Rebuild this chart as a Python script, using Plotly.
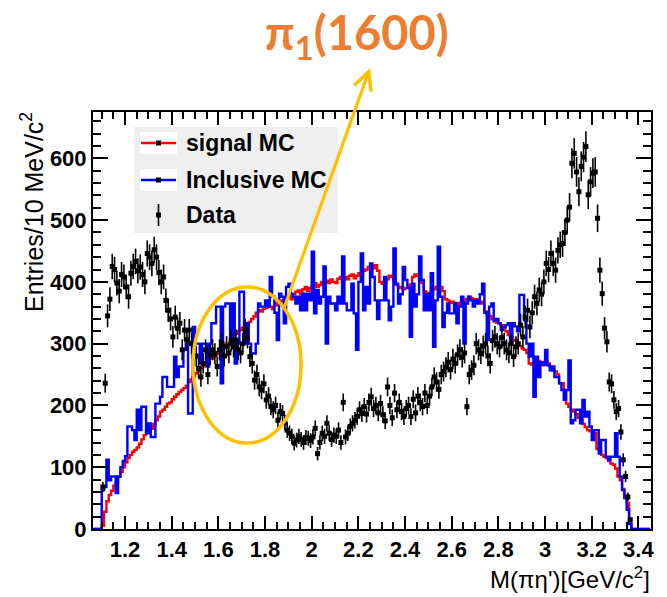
import numpy as np
import plotly.graph_objects as go

# ---------------- data (10 MeV bins, first bin starts at 1.10 GeV) ----------------
BIN_START = 1.10
BIN_WIDTH = 0.01
HIST_LO, HIST_HI = 1.06, 3.45   # histogram range (empty bins outside the filled region)

data_counts = [
    68, 236, 345, 372, 425, 420, 398, 385, 412, 408,
    392, 376, 414, 425, 433, 418, 424, 412, 400, 446,
    440, 430, 452, 440, 415, 400, 408, 370, 354, 340,
    311, 343, 325, 333, 290, 322, 306, 322, 300, 279,
    280, 260, 246, 268, 290, 250, 282, 290, 284, 263,
    290, 300, 280, 295, 285, 305, 295, 306, 290, 285,
    300, 322, 310, 279, 268, 241, 250, 230, 225, 235,
    209, 215, 198, 193, 200, 176, 190, 187, 172, 160,
    155, 150, 139, 144, 150, 145, 140, 148, 147, 143,
    149, 163, 122, 140, 155, 150, 171, 155, 145, 152,
    150, 160, 140, 205, 149, 155, 166, 171, 176, 182,
    193, 187, 198, 186, 205, 214, 195, 200, 188, 203,
    185, 175, 230, 200, 180, 220, 193, 205, 190, 182,
    195, 200, 182, 210, 188, 215, 205, 198, 220, 200,
    215, 230, 246, 238, 226, 250, 255, 262, 270, 258,
    275, 268, 282, 290, 278, 285, 198, 250, 257, 265,
    300, 290, 284, 296, 300, 280, 268, 305, 311, 300,
    295, 310, 300, 290, 285, 300, 279, 295, 300, 330,
    311, 343, 354, 327, 350, 376, 365, 387, 380, 400,
    430, 420, 446, 430, 419, 451, 460, 462, 480, 500,
    521, 592, 608, 578, 546, 587, 602, 619, 541, 562,
    576, 578, 503, 419, 381, 325, 303, 238, 235, 209,
    190, 195, 157, 112, 85, 52, 15,
]

signal_mc = [
    5, 28, 45, 55, 62, 70, 75, 85, 92, 100,
    108, 115, 120, 125, 128, 132, 138, 145, 152, 158,
    160, 162, 170, 176, 182, 190, 193, 198, 203, 205,
    210, 214, 218, 222, 225, 228, 232, 238, 242, 246,
    252, 255, 260, 263, 270, 272, 278, 276, 280, 284,
    290, 288, 294, 300, 298, 305, 310, 316, 320, 322,
    326, 330, 328, 335, 340, 344, 350, 354, 352, 356,
    358, 362, 360, 356, 366, 362, 368, 370, 372, 375,
    378, 372, 380, 384, 386, 380, 388, 392, 385, 390,
    394, 398, 392, 395, 400, 396, 402, 398, 404, 400,
    398, 405, 408, 402, 408, 404, 410, 412, 406, 410,
    414, 412, 418, 420, 424, 426, 422, 427, 418, 400,
    397, 398, 404, 410, 408, 402, 395, 390, 392, 388,
    390, 392, 396, 408, 412, 410, 404, 398, 385, 381,
    382, 380, 388, 392, 390, 392, 385, 372, 370, 366,
    368, 364, 366, 362, 365, 368, 372, 376, 374, 370,
    372, 370, 368, 365, 352, 348, 345, 340, 336, 334,
    333, 330, 328, 320, 314, 311, 305, 306, 300, 296,
    292, 290, 285, 268, 266, 268, 270, 272, 268, 265,
    272, 268, 262, 257, 255, 250, 236, 236, 225, 203,
    198, 193, 190, 186, 180, 176, 170, 165, 160, 158,
    158, 155, 130, 128, 120, 117, 115, 110, 106, 104,
    98, 85, 79, 65, 50, 42, 9,
]

inclusive_mc = [
    63, 68, 112, 79, 85, 85, 58, 85, 100, 110,
    118, 166, 166, 160, 144, 193, 160, 198, 198, 155,
    171, 149, 149, 203, 203, 214, 246, 246, 230, 230,
    230, 279, 246, 263, 263, 290, 300, 187, 187, 327,
    300, 300, 268, 300, 300, 263, 300, 333, 333, 360,
    360, 236, 360, 365, 365, 300, 365, 268, 300, 384,
    384, 300, 333, 300, 284, 284, 300, 365, 360, 360,
    370, 360, 408, 376, 350, 306, 381, 376, 333, 392,
    397, 381, 376, 365, 376, 354, 381, 354, 381, 370,
    449, 349, 387, 365, 376, 425, 300, 376, 365, 365,
    354, 376, 365, 441, 365, 354, 354, 397, 349, 290,
    400, 446, 354, 392, 365, 430, 408, 370, 340, 370,
    370, 408, 370, 338, 360, 454, 397, 365, 380, 424,
    403, 390, 311, 397, 360, 380, 441, 403, 354, 380,
    354, 414, 295, 370, 457, 376, 327, 350, 365, 349,
    349, 365, 333, 360, 376, 300, 365, 376, 370, 360,
    370, 365, 380, 397, 350, 306, 360, 365, 338, 340,
    333, 322, 327, 330, 333, 306, 333, 328, 320, 379,
    379, 338, 300, 279, 300, 214, 279, 246, 270, 266,
    290, 265, 257, 263, 246, 246, 236, 225, 209, 225,
    273, 171, 176, 193, 193, 171, 209, 182, 190, 166,
    144, 160, 160, 122, 144, 144, 117, 112, 117, 117,
    155, 117, 85, 63, 50, 31, 8,
]

x_ticks = [1.2, 1.4, 1.6, 1.8, 2.0, 2.2, 2.4, 2.6, 2.8, 3.0, 3.2, 3.4]
y_ticks = [0, 100, 200, 300, 400, 500, 600]

ORANGE = "#ED7D31"
GOLD = "#FFC000"
FONT = "Liberation Sans, Arial, sans-serif"


def step_xy(counts):
    """Outline of a histogram (ROOT style) over the full range HIST_LO..HIST_HI."""
    counts = np.asarray(counts, dtype=float)
    n_lead = int(round((BIN_START - HIST_LO) / BIN_WIDTH))
    n_tot = int(round((HIST_HI - HIST_LO) / BIN_WIDTH))
    full = np.zeros(n_tot)
    full[n_lead:n_lead + len(counts)] = counts
    edges = HIST_LO + BIN_WIDTH * np.arange(n_tot + 1)
    xs = list(edges)
    ys = list(full) + [full[-1]]
    return xs, ys


fig = go.Figure()

xs, ys = step_xy(signal_mc)
fig.add_trace(go.Scatter(x=xs, y=ys, mode="lines", line=dict(color="#ff0000", width=2.4, shape="hv"),
                         showlegend=False, hoverinfo="skip"))
xs, ys = step_xy(inclusive_mc)
fig.add_trace(go.Scatter(x=xs, y=ys, mode="lines", line=dict(color="#0000ff", width=2.4, shape="hv"),
                         showlegend=False, hoverinfo="skip"))

dc = np.asarray(data_counts, dtype=float)
dx = BIN_START + BIN_WIDTH * (np.arange(len(dc)) + 0.5)
fig.add_trace(go.Scatter(
    x=dx, y=dc, mode="markers",
    marker=dict(symbol="square", size=5, color="black"),
    error_y=dict(type="data", array=np.sqrt(dc), color="black", thickness=1.6, width=0),
    showlegend=False, hoverinfo="skip"))

# ---------------- layout geometry (pixels) ----------------
W, H = 667, 597
L, R, T, B = 93, 16, 112, 68
PW, PH = W - L - R, H - T - B


def px(xp):
    return (xp - L) / PW


def py(yp):
    return (H - B - yp) / PH


shapes = []
annotations = []

# legend box
shapes.append(dict(type="rect", xref="paper", yref="paper", x0=px(134), x1=px(338), y0=py(233), y1=py(127),
                   fillcolor="#efefef", line=dict(width=0), layer="above"))
legend_rows = [("signal MC", 143, "#ff0000"), ("Inclusive MC", 180, "#0000ff"), ("Data", 215, None)]
for label, yc, col in legend_rows:
    if col is not None:
        shapes.append(dict(type="rect", xref="paper", yref="paper", x0=px(140), x1=px(177),
                           y0=py(yc + 11), y1=py(yc - 11), fillcolor="white", line=dict(width=0), layer="above"))
        shapes.append(dict(type="line", xref="paper", yref="paper", x0=px(141), x1=px(176),
                           y0=py(yc), y1=py(yc), line=dict(color=col, width=2.4), layer="above"))
    else:
        shapes.append(dict(type="line", xref="paper", yref="paper", x0=px(158.5), x1=px(158.5),
                           y0=py(yc + 11), y1=py(yc - 11), line=dict(color="black", width=1.6), layer="above"))
    shapes.append(dict(type="rect", xref="paper", yref="paper", x0=px(156), x1=px(161),
                       y0=py(yc + 2.5), y1=py(yc - 2.5), fillcolor="black", line=dict(width=0), layer="above"))
    annotations.append(dict(text="<b>%s</b>" % label, xref="paper", yref="paper", x=px(184), y=py(yc),
                            xanchor="left", yanchor="middle", showarrow=False,
                            font=dict(family=FONT, size=23, color="black")))

# orange ellipse around the pi1(1600) region
shapes.append(dict(type="circle", xref="paper", yref="paper", x0=px(193), x1=px(301), y0=py(443), y1=py(287),
                   line=dict(color=GOLD, width=3.5), layer="above"))

# arrow (head at top, tail on the ellipse); ax/ay are pixel offsets of the tail
annotations.append(dict(x=px(370), y=py(68), xref="paper", yref="paper",
                        ax=283 - 370, ay=311 - 68, showarrow=True, arrowhead=5, arrowsize=1.1,
                        arrowwidth=3.2, arrowcolor=GOLD, text=""))

# label
annotations.append(dict(text="<b>π<sub>1</sub>(1600)</b>", xref="paper", yref="paper", x=px(357), y=py(35),
                        xanchor="center", yanchor="middle", showarrow=False,
                        font=dict(family="Lato, Noto Sans, sans-serif", size=47, color=ORANGE)))

# axis titles
annotations.append(dict(text="M(πη')[GeV/c<sup>2</sup>]", xref="paper", yref="paper", x=px(652), y=py(578),
                        xanchor="right", yanchor="middle", showarrow=False,
                        font=dict(family=FONT, size=24, color="black")))
annotations.append(dict(text="Entries/10 MeV/c<sup>2</sup>", xref="paper", yref="paper", x=px(32), y=py(110),
                        xanchor="center", yanchor="top", textangle=-90, showarrow=False,
                        font=dict(family=FONT, size=25, color="black")))

fig.update_layout(
    width=W, height=H,
    margin=dict(l=L, r=R, t=T, b=B, pad=0),
    paper_bgcolor="white", plot_bgcolor="white",
    showlegend=False,
    shapes=shapes, annotations=annotations,
    xaxis=dict(range=[1.0626, 3.454], tickvals=x_ticks, ticktext=["%g" % v for v in x_ticks],
               ticks="inside", ticklen=13, tickwidth=1.5, tickcolor="black",
               showline=True, linewidth=2, linecolor="black", mirror="allticks",
               showgrid=False, zeroline=False,
               minor=dict(dtick=0.05, tick0=0, ticks="inside", ticklen=7, tickwidth=1.5, tickcolor="black",
                          showgrid=False),
               tickfont=dict(family=FONT, size=22, color="black", weight="bold")),
    yaxis=dict(range=[0, 675], tickvals=y_ticks,
               ticks="inside", ticklen=15, tickwidth=1.5, tickcolor="black",
               showline=True, linewidth=2, linecolor="black", mirror="allticks",
               showgrid=False, zeroline=False,
               minor=dict(dtick=20, tick0=0, ticks="inside", ticklen=8, tickwidth=1.5, tickcolor="black",
                          showgrid=False),
               tickfont=dict(family=FONT, size=22, color="black", weight="bold")),
)

fig.write_html("out.html")
